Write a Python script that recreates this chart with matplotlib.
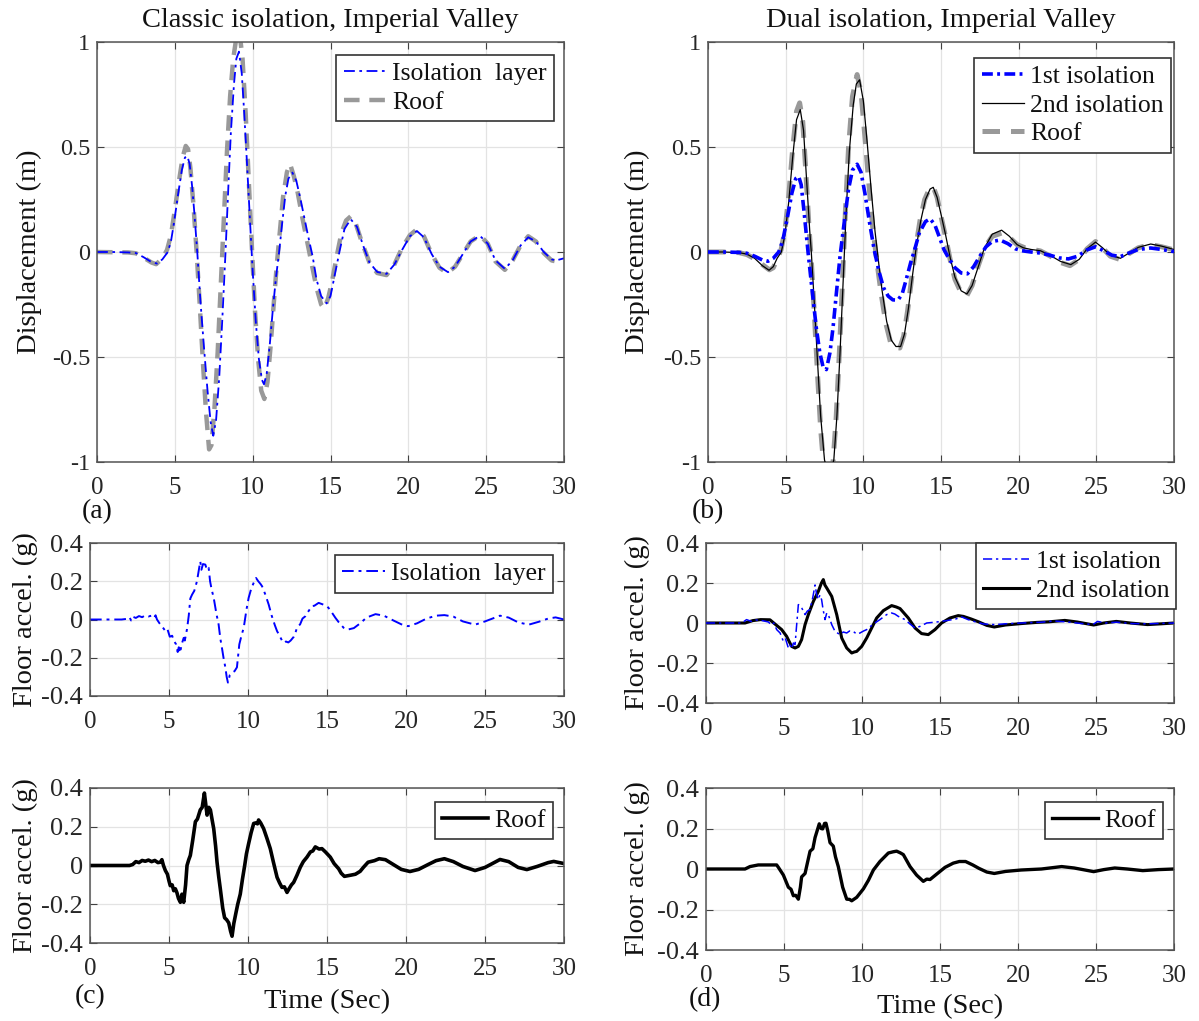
import matplotlib
matplotlib.use("Agg")
import matplotlib.pyplot as plt

# ── Data ─────────────────────────────────────────────────────

# (a) Classic isolation, displacement (m)
a_iso_t = [0, 1.0, 2.0, 2.5, 3.0, 3.5, 3.86, 4.2, 4.55, 4.75, 4.95, 5.2, 5.45, 5.65, 5.8, 5.95,
           6.1, 6.25, 6.45, 6.65, 6.9, 7.1, 7.3, 7.47, 7.65, 7.85, 8.05, 8.25, 8.45, 8.6, 8.8,
           8.95, 9.12, 9.3, 9.45, 9.6, 9.8, 10.0, 10.2, 10.4, 10.6, 10.73, 10.9, 11.1, 11.3,
           11.5, 11.7, 11.9, 12.1, 12.3, 12.55, 12.8, 13.05, 13.3, 13.55, 13.85, 14.1, 14.4,
           14.75, 15.0, 15.3, 15.6, 15.9, 16.3, 16.7, 17.1, 17.5, 18.0, 18.6, 19.1, 19.6, 20.1,
           20.55, 21.0, 21.5, 22.0, 22.55, 23.0, 23.5, 24.0, 24.6, 25.1, 25.6, 26.2, 26.7,
           27.2, 27.7, 28.2, 28.7, 29.2, 29.5, 30.0]
a_iso_v = [0, 0, -0.002, -0.005, -0.025, -0.048, -0.055, -0.035, 0.0, 0.05, 0.14, 0.27, 0.39,
           0.45, 0.457, 0.42, 0.32, 0.19, -0.01, -0.24, -0.48, -0.66, -0.81, -0.875, -0.80,
           -0.60, -0.32, -0.01, 0.33, 0.57, 0.80, 0.92, 0.954, 0.85, 0.67, 0.47, 0.19, -0.09,
           -0.33, -0.51, -0.61, -0.63, -0.58, -0.44, -0.27, -0.12, 0.0, 0.14, 0.27, 0.35, 0.378,
           0.34, 0.26, 0.17, 0.08, -0.02, -0.13, -0.21, -0.245, -0.21, -0.10, 0.01, 0.11,
           0.156, 0.12, 0.03, -0.05, -0.095, -0.104, -0.06, 0.01, 0.075, 0.10, 0.07, -0.01,
           -0.07, -0.096, -0.07, -0.01, 0.05, 0.077, 0.04, -0.04, -0.08, -0.04, 0.03, 0.07,
           0.05, 0.0, -0.035, -0.04, -0.03]
a_roof_t = [0, 2.0, 2.5, 3.0, 3.5, 3.8, 4.2, 4.5, 4.75, 5.0, 5.25, 5.5, 5.7, 5.85, 6.0, 6.2,
            6.4, 6.6, 6.8, 7.0, 7.2, 7.35, 7.55, 7.75, 7.95, 8.15, 8.35, 8.55, 8.75, 8.95,
            9.15, 9.35, 9.55, 9.75, 9.95, 10.15, 10.35, 10.55, 10.75, 10.95, 11.15, 11.35,
            11.55, 11.75, 11.95, 12.2, 12.4, 12.65, 12.9, 13.2, 13.5, 13.8, 14.1, 14.4, 14.6,
            14.85, 15.1, 15.4, 15.7, 16.0, 16.3, 16.6, 17.0, 17.5, 18.0, 18.6, 19.1, 19.6,
            20.1, 20.5, 21.0, 21.5, 22.0, 22.5, 23.0, 23.5, 24.0, 24.6, 25.1, 25.6, 26.2,
            26.7, 27.2, 27.7, 28.2, 28.7, 29.2, 29.5, 30.0]
a_roof_v = [0, -0.002, -0.006, -0.027, -0.05, -0.058, -0.03, 0.01, 0.08, 0.2, 0.33, 0.45,
            0.505, 0.49, 0.40, 0.22, 0.0, -0.25, -0.52, -0.76, -0.94, -0.92, -0.74, -0.48,
            -0.16, 0.16, 0.48, 0.74, 0.92, 1.02, 1.05, 0.92, 0.66, 0.34, 0.02, -0.28, -0.51,
            -0.66, -0.70, -0.62, -0.45, -0.25, -0.06, 0.10, 0.26, 0.38, 0.42, 0.36, 0.28,
            0.16, 0.05, -0.06, -0.17, -0.25, -0.27, -0.22, -0.14, -0.02, 0.09, 0.15, 0.17,
            0.14, 0.05, -0.05, -0.10, -0.11, -0.06, 0.02, 0.08, 0.105, 0.075, -0.01, -0.075,
            -0.10, -0.07, -0.01, 0.05, 0.08, 0.04, -0.045, -0.085, -0.04, 0.03, 0.075, 0.05,
            -0.005, -0.04, -0.045, -0.035]

# (b) Dual isolation, displacement (m)
b_iso1_t = [0, 1.0, 2.0, 2.5, 3.0, 3.5, 3.86, 4.2, 4.55, 4.8, 5.1, 5.4, 5.65, 5.84, 6.0, 6.2,
            6.44, 6.7, 6.97, 7.2, 7.4, 7.62, 7.85, 8.05, 8.26, 8.5, 8.8, 9.05, 9.3, 9.6,
            9.85, 10.1, 10.4, 10.7, 11.0, 11.3, 11.6, 11.9, 12.23, 12.5, 12.8, 13.05, 13.3,
            13.6, 14.0, 14.3, 14.6, 14.9, 15.2, 15.5, 15.9, 16.3, 16.7, 17.1, 17.5, 17.9,
            18.3, 18.8, 19.3, 19.8, 20.2, 20.8, 21.4, 22.0, 22.6, 23.2, 23.8, 24.4, 24.95,
            25.5, 26.0, 26.55, 27.1, 27.7, 28.5, 29.2, 30.0]
b_iso1_v = [0, 0, -0.002, -0.006, -0.02, -0.038, -0.044, -0.03, 0.0, 0.05, 0.16, 0.28, 0.35,
            0.36, 0.32, 0.18, 0.0, -0.18, -0.36, -0.48, -0.545, -0.56, -0.48, -0.36, -0.2,
            -0.02, 0.16, 0.30, 0.39, 0.418, 0.38, 0.28, 0.14, 0.01, -0.09, -0.17, -0.21,
            -0.228, -0.229, -0.2, -0.12, -0.05, 0.01, 0.09, 0.145, 0.158, 0.13, 0.07, 0.01,
            -0.03, -0.075, -0.1, -0.104, -0.07, -0.02, 0.025, 0.05, 0.057, 0.04, 0.015,
            0.006, 0.0, -0.005, -0.015, -0.028, -0.033, -0.02, 0.01, 0.025, 0.005, -0.015,
            -0.022, -0.005, 0.012, 0.019, 0.012, 0.002]
b_iso2_t = [0, 1.0, 2.0, 2.5, 3.0, 3.5, 3.93, 4.2, 4.45, 4.72, 4.95, 5.2, 5.45, 5.7, 5.94,
            6.15, 6.35, 6.55, 6.65, 6.85, 7.05, 7.25, 7.5, 7.8, 8.1, 8.3, 8.5, 8.7, 8.9, 9.1,
            9.35, 9.55, 9.76, 10.0, 10.25, 10.5, 10.75, 11.0, 11.2, 11.5, 11.8, 12.1, 12.4,
            12.65, 12.9, 13.15, 13.4, 13.7, 14.0, 14.3, 14.5, 14.75, 15.0, 15.3, 15.6, 15.9,
            16.3, 16.67, 17.0, 17.4, 17.8, 18.3, 18.9, 19.4, 19.9, 20.3, 20.8, 21.4, 22.0,
            22.7, 23.36, 23.9, 24.4, 24.95, 25.4, 25.9, 26.55, 27.1, 27.7, 28.5, 29.2, 30.0]
b_iso2_v = [0, 0, -0.003, -0.01, -0.03, -0.065, -0.087, -0.07, -0.03, 0.0, 0.08, 0.24, 0.45,
            0.63, 0.678, 0.58, 0.34, 0.1, 0.0, -0.25, -0.52, -0.78, -0.99, -1.08, -0.99,
            -0.78, -0.48, -0.14, 0.2, 0.48, 0.7, 0.8, 0.82, 0.72, 0.52, 0.3, 0.1, -0.06,
            -0.18, -0.33, -0.42, -0.45, -0.45, -0.39, -0.27, -0.12, 0.02, 0.15, 0.25, 0.3,
            0.308, 0.26, 0.18, 0.08, -0.03, -0.12, -0.185, -0.2, -0.16, -0.07, 0.02, 0.085,
            0.104, 0.075, 0.035, 0.02, 0.012, 0.006, -0.015, -0.045, -0.06, -0.035, 0.015,
            0.047, 0.02, -0.015, -0.03, -0.005, 0.022, 0.038, 0.028, 0.012]
b_roof_t = [0, 1.0, 2.0, 2.5, 3.0, 3.5, 3.95, 4.2, 4.45, 4.7, 4.95, 5.2, 5.45, 5.7, 5.9, 6.1,
            6.3, 6.5, 6.65, 6.85, 7.05, 7.25, 7.45, 7.75, 8.05, 8.25, 8.45, 8.65, 8.85, 9.05,
            9.3, 9.6, 9.85, 10.1, 10.35, 10.6, 10.9, 11.15, 11.45, 11.75, 12.05, 12.35, 12.6,
            12.85, 13.1, 13.35, 13.65, 13.95, 14.25, 14.5, 14.75, 15.0, 15.3, 15.6, 15.9,
            16.3, 16.65, 17.0, 17.4, 17.8, 18.3, 18.9, 19.4, 19.9, 20.4, 20.9, 21.4, 22.0,
            22.7, 23.3, 23.9, 24.4, 24.95, 25.4, 25.9, 26.5, 27.1, 27.7, 28.5, 29.2, 30.0]
b_roof_v = [0, 0, -0.003, -0.012, -0.032, -0.06, -0.085, -0.075, -0.035, 0.01, 0.1, 0.27,
            0.49, 0.67, 0.71, 0.62, 0.38, 0.12, -0.04, -0.3, -0.58, -0.84, -1.02, -1.1,
            -1.0, -0.79, -0.49, -0.16, 0.2, 0.5, 0.74, 0.845, 0.76, 0.55, 0.33, 0.12, -0.06,
            -0.2, -0.34, -0.43, -0.455, -0.457, -0.40, -0.28, -0.13, 0.01, 0.15, 0.25, 0.3,
            0.31, 0.26, 0.17, 0.07, -0.04, -0.13, -0.195, -0.21, -0.16, -0.065, 0.02, 0.075,
            0.09, 0.07, 0.035, 0.02, 0.012, 0.005, -0.018, -0.05, -0.065, -0.035, 0.015,
            0.05, 0.02, -0.02, -0.035, -0.008, 0.02, 0.035, 0.025, 0.01]

# (c) Classic isolation, floor acceleration (g)
c_iso_t = [0, 2.0, 2.3, 2.5, 2.6, 2.7, 2.9, 3.1, 3.3, 3.5, 3.7, 3.9, 4.05, 4.15, 4.24, 4.4,
           4.55, 4.77, 4.9, 5.05, 5.2, 5.3, 5.45, 5.55, 5.62, 5.7, 5.8, 5.93, 6.0, 6.14,
           6.25, 6.35, 6.46, 6.6, 6.77, 6.87, 6.98, 7.05, 7.15, 7.3, 7.4, 7.51, 7.6, 7.68,
           7.75, 7.83, 8.0, 8.14, 8.25, 8.35, 8.45, 8.57, 8.65, 8.73, 8.85, 8.99, 9.15, 9.3,
           9.4, 9.45, 9.6, 9.73, 9.9, 10.04, 10.2, 10.35, 10.51, 10.65, 10.8, 10.89, 11.1,
           11.31, 11.5, 11.7, 11.84, 12.0, 12.15, 12.26, 12.4, 12.55, 12.7, 12.9, 13.0, 13.1,
           13.3, 13.45, 13.63, 13.8, 14.05, 14.2, 14.47, 14.7, 15.0, 15.2, 15.4, 15.53,
           15.75, 16.05, 16.3, 16.7, 17.1, 17.5, 18.07, 18.6, 19.2, 19.7, 20.13, 20.7, 21.3,
           21.9, 22.43, 23.0, 23.6, 24.37, 25.0, 25.95, 26.5, 27.1, 27.77, 28.4, 29.0,
           29.47, 30.0]
c_iso_v = [0, 0, 0.003, 0.012, -0.005, 0.015, 0.008, 0.018, 0.012, 0.022, 0.016, 0.02,
           0.008, 0.022, 0.0, -0.02, -0.035, -0.06, -0.05, -0.09, -0.085, -0.11, -0.13,
           -0.17, -0.145, -0.175, -0.13, -0.096, -0.11, -0.05, 0.02, 0.11, 0.13, 0.15, 0.2,
           0.25, 0.304, 0.26, 0.29, 0.287, 0.26, 0.27, 0.2, 0.165, 0.14, 0.113, 0.03,
           -0.026, -0.1, -0.148, -0.2, -0.252, -0.3, -0.33, -0.29, -0.278, -0.27, -0.25,
           -0.17, -0.13, -0.08, -0.043, 0.05, 0.113, 0.16, 0.19, 0.217, 0.2, 0.185, 0.174,
           0.13, 0.078, 0.02, -0.03, -0.061, -0.085, -0.11, -0.122, -0.115, -0.12, -0.11,
           -0.09, -0.07, -0.043, -0.025, 0.005, 0.017, 0.04, 0.07, 0.072, 0.087, 0.08, 0.07,
           0.05, 0.025, 0.009, -0.015, -0.043, -0.053, -0.045, -0.02, 0.01, 0.028, 0.02,
           -0.005, -0.025, -0.035, -0.02, 0.005, 0.02, 0.023, 0.015, -0.01, -0.027, -0.01,
           0.02, 0.01, -0.015, -0.027, -0.012, 0.005, 0.011, 0.0]
c_roof_t = [0, 2.5, 2.7, 2.9, 3.1, 3.3, 3.5, 3.7, 3.9, 4.1, 4.3, 4.45, 4.55, 4.65, 4.77, 4.9,
            5.0, 5.08, 5.2, 5.3, 5.4, 5.5, 5.6, 5.72, 5.82, 5.93, 6.05, 6.14, 6.25, 6.35,
            6.5, 6.67, 6.8, 6.98, 7.1, 7.24, 7.32, 7.41, 7.52, 7.62, 7.72, 7.83, 7.95, 8.04,
            8.15, 8.25, 8.4, 8.52, 8.65, 8.78, 8.9, 8.99, 9.1, 9.24, 9.35, 9.51, 9.65, 9.79,
            9.9, 10.04, 10.2, 10.36, 10.5, 10.6, 10.67, 10.8, 10.99, 11.2, 11.41, 11.6,
            11.84, 12.0, 12.15, 12.3, 12.47, 12.6, 12.75, 12.89, 13.1, 13.31, 13.5, 13.73,
            13.95, 14.1, 14.26, 14.5, 14.68, 14.9, 15.21, 15.45, 15.74, 15.9, 16.1, 16.5,
            16.8, 17.1, 17.3, 17.6, 18.0, 18.3, 18.7, 19.2, 19.7, 20.25, 20.8, 21.4, 21.9,
            22.43, 23.0, 23.6, 24.37, 25.0, 25.95, 26.5, 27.1, 27.65, 28.3, 29.0, 29.35, 30.0]
c_roof_v = [0, 0, 0.005, 0.02, 0.015, 0.026, 0.022, 0.028, 0.02, 0.026, 0.015, 0.017, 0.03,
            0.0, -0.026, -0.045, -0.08, -0.104, -0.1, -0.13, -0.12, -0.14, -0.17, -0.19,
            -0.148, -0.19, -0.1, 0.0, 0.03, 0.052, 0.13, 0.226, 0.24, 0.287, 0.3, 0.374,
            0.32, 0.26, 0.3, 0.287, 0.24, 0.19, 0.1, 0.017, -0.06, -0.122, -0.22, -0.27,
            -0.28, -0.296, -0.34, -0.365, -0.3, -0.243, -0.2, -0.148, -0.07, 0.0, 0.06,
            0.113, 0.17, 0.217, 0.22, 0.215, 0.235, 0.22, 0.19, 0.14, 0.087, 0.02, -0.061,
            -0.09, -0.113, -0.11, -0.139, -0.12, -0.1, -0.087, -0.05, -0.009, 0.02, 0.043,
            0.07, 0.075, 0.096, 0.085, 0.087, 0.07, 0.043, 0.01, -0.017, -0.04, -0.056,
            -0.05, -0.045, -0.03, -0.01, 0.017, 0.025, 0.035, 0.03, 0.005, -0.02, -0.031,
            -0.02, 0.005, 0.025, 0.035, 0.02, -0.005, -0.026, -0.01, 0.031, 0.02, -0.01,
            -0.021, -0.005, 0.015, 0.021, 0.01]

# (d) Dual isolation, floor acceleration (g)
d_iso1_t = [0, 2.3, 2.6, 2.9, 3.2, 3.6, 4.0, 4.2, 4.35, 4.53, 4.75, 4.96, 5.1, 5.28, 5.38,
            5.5, 5.6, 5.71, 5.8, 5.92, 6.0, 6.13, 6.25, 6.35, 6.5, 6.67, 6.85, 6.99, 7.1,
            7.2, 7.3, 7.41, 7.5, 7.63, 7.74, 7.84, 8.06, 8.27, 8.59, 8.8, 9.02, 9.2, 9.44,
            9.65, 9.87, 10.1, 10.3, 10.5, 10.73, 11.15, 11.58, 11.9, 12.1, 12.33, 12.76,
            13.08, 13.4, 13.72, 14.15, 14.79, 15.43, 16.0, 16.4, 16.8, 17.3, 17.8, 18.5,
            19.2, 20.2, 21.5, 22.3, 23.2, 24.0, 24.8, 25.1, 25.6, 26.3, 27.3, 28.3, 29.2, 30.0]
d_iso1_v = [0, 0, 0.017, 0.008, 0.015, 0.012, 0.005, -0.01, 0.0, -0.033, -0.05, -0.092,
            -0.08, -0.125, -0.11, -0.128, -0.1, -0.108, -0.02, 0.092, 0.085, 0.075, 0.06,
            0.042, 0.06, 0.067, 0.13, 0.19, 0.14, 0.117, 0.14, 0.117, 0.07, 0.017, 0.05,
            0.042, -0.008, -0.042, -0.058, -0.045, -0.05, -0.04, -0.042, -0.055, -0.05,
            -0.04, -0.033, -0.02, -0.005, 0.017, 0.042, 0.05, 0.045, 0.033, 0.017, -0.005,
            -0.025, -0.017, 0.0, 0.005, 0.012, 0.02, 0.03, 0.017, 0.005, -0.005, -0.008,
            -0.004, 0.0, 0.004, 0.01, 0.005, -0.002, -0.008, 0.008, 0.0, 0.004, -0.003,
            -0.004, -0.002, 0.0]
d_iso2_t = [0, 2.5, 3.0, 3.5, 4.1, 4.42, 4.85, 5.17, 5.49, 5.71, 5.92, 6.13, 6.35, 6.56,
            6.88, 7.2, 7.4, 7.52, 7.62, 7.74, 8.06, 8.38, 8.7, 9.02, 9.34, 9.5, 9.66, 9.98,
            10.3, 10.62, 10.94, 11.37, 11.9, 12.2, 12.44, 12.97, 13.4, 13.82, 14.25, 14.68,
            15.1, 15.64, 16.17, 16.5, 17.0, 17.5, 18.0, 18.48, 19.2, 20.2, 21.2, 22.0, 23.0,
            23.8, 24.85, 25.5, 26.3, 27.2, 28.3, 29.2, 30.0]
d_iso2_v = [0, 0, 0.012, 0.017, 0.016, -0.005, -0.033, -0.067, -0.117, -0.125, -0.117,
            -0.083, -0.008, 0.042, 0.108, 0.158, 0.2, 0.217, 0.19, 0.175, 0.133, 0.042,
            -0.075, -0.125, -0.15, -0.145, -0.142, -0.117, -0.075, -0.025, 0.025, 0.062,
            0.087, 0.08, 0.072, 0.025, -0.025, -0.053, -0.058, -0.033, 0.0, 0.025, 0.037,
            0.033, 0.02, 0.005, -0.012, -0.02, -0.01, -0.003, 0.003, 0.006, 0.013, 0.005,
            -0.01, 0.0, 0.008, 0.0, -0.008, -0.004, 0.0]
d_roof_t = [0, 2.5, 2.82, 3.35, 4.0, 4.53, 4.64, 4.96, 5.28, 5.45, 5.6, 5.75, 5.92, 6.05,
            6.13, 6.35, 6.5, 6.67, 6.85, 6.99, 7.26, 7.38, 7.48, 7.6, 7.69, 7.8, 7.95, 8.16,
            8.3, 8.48, 8.76, 9.02, 9.2, 9.34, 9.66, 10.09, 10.41, 10.73, 11.15, 11.69, 12.0,
            12.22, 12.45, 12.65, 13.08, 13.5, 13.93, 14.15, 14.36, 14.79, 15.32, 15.85,
            16.24, 16.64, 17.1, 17.5, 18.0, 18.48, 19.2, 20.2, 21.5, 22.8, 23.6, 24.85,
            25.5, 26.2, 27.0, 28.0, 29.0, 30.0]
d_roof_v = [0, 0, 0.012, 0.02, 0.02, 0.02, 0.008, -0.03, -0.09, -0.1, -0.132, -0.13,
            -0.149, -0.09, -0.039, -0.022, 0.03, 0.088, 0.1, 0.155, 0.223, 0.2, 0.198,
            0.225, 0.226, 0.19, 0.13, 0.113, 0.06, 0.012, -0.09, -0.149, -0.15, -0.157,
            -0.14, -0.098, -0.056, -0.005, 0.037, 0.079, 0.085, 0.088, 0.08, 0.071, 0.012,
            -0.03, -0.061, -0.05, -0.052, -0.025, 0.008, 0.029, 0.037, 0.037, 0.02, 0.003,
            -0.015, -0.022, -0.012, -0.005, 0.0, 0.012, 0.005, -0.013, -0.003, 0.005, 0.0,
            -0.008, -0.003, 0.0]

time_ticks = [0, 5, 10, 15, 20, 25, 30]
disp_ticks = [-1, -0.5, 0, 0.5, 1]
disp_labels = ["-1", "-0.5", "0", "0.5", "1"]
acc_ticks = [-0.4, -0.2, 0, 0.2, 0.4]
acc_labels = ["-0.4", "-0.2", "0", "0.2", "0.4"]

# ── Style ────────────────────────────────────────────────────
plt.rcParams["font.family"] = ["Liberation Serif", "DejaVu Serif"]
plt.rcParams["axes.unicode_minus"] = False

W, H = 1199, 1021
fig = plt.figure(figsize=(W / 100, H / 100), dpi=100)


def px_axes(x0, y0, x1, y1):
    # axes from a pixel box, top-left origin
    return fig.add_axes([x0 / W, 1 - y1 / H, (x1 - x0) / W, (y1 - y0) / H])


def style(ax, yticks, ylabels, ylabel, ysize, ylab_x):
    ax.set_xlim(0, 30)
    ax.set_ylim(yticks[0], yticks[-1])
    ax.set_xticks(time_ticks)
    ax.set_xticklabels([str(t) for t in time_ticks])
    ax.set_yticks(yticks)
    ax.set_yticklabels(ylabels)
    ax.grid(True, color="#e3e3e3", lw=0.9)
    ax.set_axisbelow(True)
    ax.tick_params(direction="in", top=True, right=True, length=5, width=0.8,
                   colors="#404040", labelcolor="#262626")
    ax.tick_params(axis="x", labelsize=18, pad=10.5)
    ax.tick_params(axis="y", labelsize=ysize, pad=5)
    for s in ax.spines.values():
        s.set_color("#555555")
        s.set_linewidth(1.1)
    ax.set_ylabel(ylabel, fontsize=20.5, color="#111111")
    # x is where the right edge of the rotated label sits
    ax.yaxis.set_label_coords(ylab_x, 0.5)


def legend(ax, x, y, handles=None, labels=None, hl=1.65):
    if handles is None:
        handles, labels = ax.get_legend_handles_labels()
    leg = ax.legend(handles, labels, loc="upper right", bbox_to_anchor=(x, y),
                    borderaxespad=0, fontsize=18.5, handlelength=hl, handletextpad=0.25,
                    labelspacing=0.22, borderpad=0.28, fancybox=False, framealpha=1)
    leg.get_frame().set_edgecolor("#333333")
    leg.get_frame().set_linewidth(1.2)
    for t in leg.get_texts():
        t.set_color("#111111")
    return leg


dashdot_thin = (0, (6, 2.5, 1.5, 2.5))
dashdot_thick = (0, (3, 1.2, 0.8, 1.2))
dash_gray = (0, (3.5, 2.2))

# (a) classic isolation displacement
ax_a = px_axes(97, 42, 564, 462)
l_roof, = ax_a.plot(a_roof_t, a_roof_v, color="#999999", lw=3.2, ls=dash_gray)
l_iso, = ax_a.plot(a_iso_t, a_iso_v, color="blue", lw=1.3, ls=dashdot_thin)
style(ax_a, disp_ticks, disp_labels, "Displacement (m)", 17.5, -0.118)
legend(ax_a, 0.979, 0.969, [l_iso, l_roof], ["Isolation  layer", "Roof"])
ax_a.set_title("Classic isolation, Imperial Valley", fontsize=20.5, pad=10.5, color="#111111")

# (b) dual isolation displacement
ax_b = px_axes(708, 42, 1174, 462)
l2, = ax_b.plot(b_iso2_t, b_iso2_v, color="black", lw=0.9, zorder=3)
lr, = ax_b.plot(b_roof_t, b_roof_v, color="#999999", lw=3.6, ls=dash_gray, zorder=2)
l1, = ax_b.plot(b_iso1_t, b_iso1_v, color="blue", lw=2.6, ls=dashdot_thick, zorder=4)
style(ax_b, disp_ticks, disp_labels, "Displacement (m)", 17.5, -0.125)
legend(ax_b, 0.994, 0.962, [l1, l2, lr], ["1st isolation", "2nd isolation", "Roof"])
ax_b.set_title("Dual isolation, Imperial Valley", fontsize=20.5, pad=10.5, color="#111111")

# (c) classic isolation accelerations
ax_c1 = px_axes(90, 543, 564, 696)
ax_c1.plot(c_iso_t, c_iso_v, color="blue", lw=1.4, ls=dashdot_thin, label="Isolation  layer")
style(ax_c1, acc_ticks, acc_labels, "Floor accel. (g)", 19, -0.11)
legend(ax_c1, 0.977, 0.92)

ax_c2 = px_axes(90, 788, 564, 943)
ax_c2.plot(c_roof_t, c_roof_v, color="black", lw=2.6, label="Roof")
style(ax_c2, acc_ticks, acc_labels, "Floor accel. (g)", 19, -0.11)
legend(ax_c2, 0.977, 0.91, hl=1.8)
ax_c2.set_xlabel("Time (Sec)", fontsize=20.5, labelpad=7, color="#111111")

# (d) dual isolation accelerations
ax_d1 = px_axes(706, 543, 1174, 703)
ax_d1.plot(d_iso1_t, d_iso1_v, color="blue", lw=1.1, ls=dashdot_thin, label="1st isolation", zorder=3)
ax_d1.plot(d_iso2_t, d_iso2_v, color="black", lw=2.2, label="2nd isolation", zorder=2)
style(ax_d1, acc_ticks, acc_labels, "Floor accel. (g)", 19, -0.12)
legend(ax_d1, 1.005, 1.0, hl=1.8)

ax_d2 = px_axes(706, 788, 1174, 950)
ax_d2.plot(d_roof_t, d_roof_v, color="black", lw=2.4, label="Roof")
style(ax_d2, acc_ticks, acc_labels, "Floor accel. (g)", 19, -0.12)
legend(ax_d2, 0.977, 0.914, hl=1.8)
ax_d2.set_xlabel("Time (Sec)", fontsize=20.5, labelpad=5.5, color="#111111")

# panel letters
for txt, x, y in [("(a)", 97, 512), ("(b)", 708, 512), ("(c)", 90, 997), ("(d)", 705, 1000)]:
    fig.text(x / W, 1 - y / H, txt, fontsize=20, ha="center", va="center", color="#111111")

plt.savefig("out.png", dpi=100)
